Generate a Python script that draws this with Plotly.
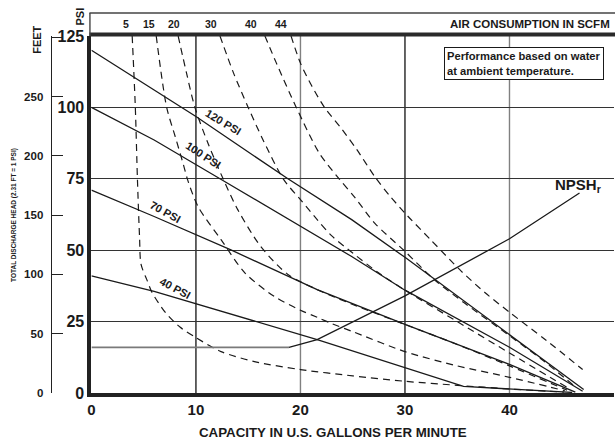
import plotly.graph_objects as go

# ---------------- data ----------------
# Performance curves at constant air inlet pressure: capacity (GPM) vs head (PSI)
PSI_120_X = [0, 10, 18.8, 24.9, 30, 40, 47.1]
PSI_120_Y = [120, 96.8, 75, 60.7, 47.5, 20.5, 1.2]
PSI_100_X = [0, 6, 12.3, 24.9, 30, 40, 47.0]
PSI_100_Y = [100, 88.6, 75, 47.8, 36, 16, 0.6]
PSI_70_X = [0, 6, 13.4, 21.6, 30, 40, 46.3]
PSI_70_Y = [71, 61.8, 50, 36.2, 24, 10, 0.3]
PSI_40_X = [0, 6, 21.6, 35.6, 46]
PSI_40_Y = [41, 35.6, 18.7, 2.3, 0.2]
PSI_LABELS = ["120 PSI", "100 PSI", "70 PSI", "40 PSI"]

# Air consumption curves (SCFM)
SCFM_5_X = [3.9, 4.2, 4.4, 4.6, 4.75, 5.3, 5.8, 7.1, 8.5, 10, 12.4, 15.6, 20, 25, 30, 35, 40, 45.2]
SCFM_5_Y = [125, 100, 75, 55, 45, 39.7, 35.2, 28.1, 23, 19.4, 14.5, 11.0, 8.2, 6, 4.1, 2.7, 1.4, 0.3]
SCFM_15_X = [6.2, 7.2, 8.0, 8.8, 9.2, 10.2, 12.4, 14.7, 17.5, 20, 21.6, 23, 25, 30, 35, 40, 45.3]
SCFM_15_Y = [125, 100, 90, 80, 74.7, 65.3, 53.7, 42, 33.8, 29, 26.5, 24.3, 21.5, 14.5, 9.5, 5.5, 0.8]
SCFM_20_X = [8.3, 9.1, 9.9, 11.2, 12.6, 14, 16.2, 18.8, 21.6, 25, 30, 35, 40, 45.5]
SCFM_20_Y = [125, 112, 100, 87, 75, 64.2, 51.3, 41.5, 36.2, 31, 24, 17, 9.5, 1]
SCFM_30_X = [12.3, 13.6, 15.0, 16.5, 18.4, 20, 21.6, 23, 25, 27.5, 30, 35, 40, 45.5]
SCFM_30_Y = [125, 112, 100, 88, 74.7, 67.7, 60.7, 55, 49, 42, 36, 25, 14, 2]
SCFM_40_X = [16.6, 17.7, 19.6, 21.8, 23.7, 25.2, 27.1, 30, 32.8, 35.7, 40.1, 43, 46.2]
SCFM_40_Y = [125, 115.5, 100, 84, 75, 68.5, 59.5, 49.6, 39.7, 31.5, 19.8, 12, 2.5]
SCFM_44_X = [19.1, 20.0, 21.1, 22.3, 24, 25.4, 27.1, 28.6, 30.3, 32.5, 35.4, 37.7, 40.1, 43.5, 47]
SCFM_44_Y = [125, 115.5, 107.4, 100, 92.2, 85.2, 75.8, 68.8, 61.8, 53.5, 42.6, 35, 28, 18.5, 8.2]
SCFM_LABELS = ["5", "15", "20", "30", "40", "44"]
SCFM_LABEL_X = [3.3, 5.5, 7.9, 11.4, 15.3, 18.1]

# NPSH required
NPSH_X = [0, 18.9, 21.6, 30, 40, 46.7]
NPSH_Y = [16, 16, 18.7, 34, 54, 70]

# Axes
X_TICKS = [0, 10, 20, 30, 40, 50]
Y_TICKS = [0, 25, 50, 75, 100, 125]
FEET_TICKS = [0, 50, 100, 150, 200, 250, 300]
FEET_TICK_TEXT = ["0", "50", "100", "150", "200", "250", " "]
GRID_X = [10, 20, 30, 40]
GRID_X_COLORS = ["#222222", "#808080", "#222222", "#808080"]

# ---------------- figure ----------------
W, H = 615, 443
ML, MR, MT, MB = 0, 1, 36, 50
PLOT_W = W - ML - MR
PLOT_H = H - MT - MB
FONT = "Liberation Sans Narrow, Arial Narrow, Liberation Sans, Arial, sans-serif"
INK = "#1a1a1a"


def pxx(px):
    return (px - ML) / PLOT_W


def pxy(py):
    return (H - MB - py) / PLOT_H


fig = go.Figure()

solid = [(PSI_120_X, PSI_120_Y), (PSI_100_X, PSI_100_Y), (PSI_70_X, PSI_70_Y), (PSI_40_X, PSI_40_Y)]
for xs, ys in solid:
    fig.add_trace(go.Scatter(x=xs, y=ys, mode="lines", line=dict(color=INK, width=1.3),
                             showlegend=False, hoverinfo="skip"))

dashed = [(SCFM_5_X, SCFM_5_Y), (SCFM_15_X, SCFM_15_Y), (SCFM_20_X, SCFM_20_Y),
          (SCFM_30_X, SCFM_30_Y), (SCFM_40_X, SCFM_40_Y), (SCFM_44_X, SCFM_44_Y)]
for xs, ys in dashed:
    fig.add_trace(go.Scatter(x=xs, y=ys, mode="lines",
                             line=dict(color=INK, width=1.2, dash="7px,5px", shape="spline", smoothing=0.8),
                             showlegend=False, hoverinfo="skip"))

# NPSHr: flat part grey, rising part black
fig.add_trace(go.Scatter(x=NPSH_X[:2], y=NPSH_Y[:2], mode="lines", line=dict(color="#7a7a7a", width=1.8),
                         showlegend=False, hoverinfo="skip"))
fig.add_trace(go.Scatter(x=NPSH_X[1:], y=NPSH_Y[1:], mode="lines", line=dict(color=INK, width=1.3),
                         showlegend=False, hoverinfo="skip"))

# invisible trace so the feet axis is drawn
fig.add_trace(go.Scatter(x=[0], y=[0], yaxis="y2", mode="markers", marker=dict(opacity=0),
                         showlegend=False, hoverinfo="skip"))

shapes = []
for gx, gc in zip(GRID_X, GRID_X_COLORS):
    shapes.append(dict(type="line", xref="x", yref="paper", x0=gx, x1=gx, y0=0, y1=1,
                       line=dict(color=gc, width=1.4), layer="below"))
# top border of plot (thick)
shapes.append(dict(type="line", xref="paper", yref="paper", x0=pxx(86), x1=1.01, y0=1.004, y1=1.004,
                   line=dict(color="#2a2a2a", width=4)))
# air consumption band
shapes.append(dict(type="line", xref="paper", yref="paper", x0=pxx(86), x1=1.01, y0=pxy(13), y1=pxy(13),
                   line=dict(color="#444", width=1.6)))
shapes.append(dict(type="line", xref="paper", yref="paper", x0=pxx(86.5), x1=pxx(86.5), y0=pxy(13), y1=1.0,
                   line=dict(color="#444", width=1.4)))

ann = []


def text(x, y, s, size, xref="paper", yref="paper", angle=0, xanchor="center", yanchor="middle", **kw):
    ann.append(dict(x=x, y=y, xref=xref, yref=yref, text=s, showarrow=False, textangle=angle,
                    xanchor=xanchor, yanchor=yanchor,
                    font=dict(family=FONT, size=size, color=INK, weight="bold"), **kw))


text(pxx(331), pxy(432), "CAPACITY IN U.S. GALLONS PER MINUTE", 13.3)
text(pxx(76), pxy(17), "PSI", 11, angle=-90)
text(pxx(33), pxy(40), "FEET", 11, angle=-90)
text(pxx(10), pxy(215), "TOTAL DISCHARGE HEAD (2.31 FT = 1 PSI)", 6.5, angle=-90)
text(pxx(612), pxy(24), "AIR CONSUMPTION IN SCFM", 11.5, xanchor="right")
for lab, lx in zip(SCFM_LABELS, SCFM_LABEL_X):
    ann.append(dict(x=lx, y=pxy(24), xref="x", yref="paper", text=lab, showarrow=False,
                    xanchor="center", yanchor="middle",
                    font=dict(family=FONT, size=10.5, color=INK, weight="bold")))
ann.append(dict(x=33.7, y=121.2, xref="x", yref="y", xanchor="left", yanchor="top", align="left",
                text="Performance based on water<br>at ambient temperature.", showarrow=False,
                bordercolor=INK, borderwidth=1, borderpad=2, bgcolor="white",
                font=dict(family=FONT, size=11.2, color=INK, weight="bold")))
PSI_LABEL_POS = [(12.6, 95.0, 31), (10.7, 83.5, 33), (7.1, 63.5, 29), (8.0, 36.9, 28)]
for lab, (lx, ly, la) in zip(PSI_LABELS, PSI_LABEL_POS):
    ann.append(dict(x=lx, y=ly, xref="x", yref="y", text=lab, showarrow=False, textangle=la,
                    font=dict(family=FONT, size=11, color=INK, weight="bold")))
ann.append(dict(x=48.9, y=72.6, xref="x", yref="y", xanchor="right", text="NPSH<sub>r</sub>",
                showarrow=False, font=dict(family=FONT, size=15, color=INK, weight="bold")))

fig.update_layout(
    width=W, height=H,
    margin=dict(l=ML, r=MR, t=MT, b=MB, pad=0),
    paper_bgcolor="white", plot_bgcolor="white",
    showlegend=False,
    font=dict(family=FONT, color=INK),
    xaxis=dict(domain=[88 / PLOT_W, 1], range=[0, 50], tickvals=X_TICKS, showgrid=False, zeroline=False,
               showline=True, linecolor="#222", linewidth=4, ticks="",
               tickfont=dict(family=FONT, size=15, color=INK, weight="bold")),
    yaxis=dict(range=[0, 125], tickvals=Y_TICKS, showgrid=True, gridcolor="#333", gridwidth=1.2,
               zeroline=False, showline=True, linecolor="#222", linewidth=4, ticks="",
               tickfont=dict(family=FONT, size=16, color=INK, weight="bold")),
    yaxis2=dict(range=[0, 301], overlaying="y", anchor="free", position=47 / PLOT_W, side="left",
                tickvals=FEET_TICKS, ticktext=FEET_TICK_TEXT, showgrid=False, zeroline=False,
                showline=True, linecolor="#222", linewidth=1.2, ticks="inside", ticklen=11,
                tickwidth=1.2, tickcolor="#222", ticklabelstandoff=5,
                tickfont=dict(family=FONT, size=11.5, color=INK, weight="bold")),
    shapes=shapes,
    annotations=ann,
)

fig.write_html("out.html", config={"displayModeBar": False},
               post_script="document.body.style.margin='0';document.body.style.padding='0';")
